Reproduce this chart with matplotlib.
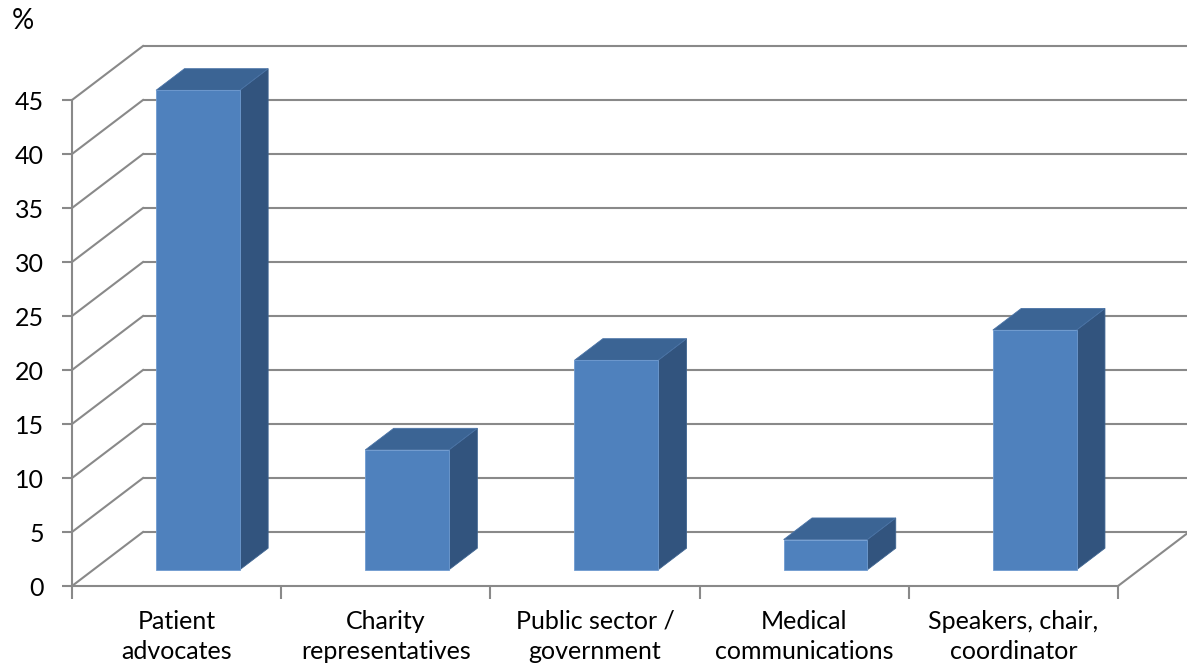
"""
Pseudo-3D column chart: share of participants by role (%)
"""
import numpy as np
import matplotlib
matplotlib.use("Agg")
import matplotlib.pyplot as plt
from matplotlib.patches import Polygon

# Data
categories = ["Patient\nadvocates", "Charity\nrepresentatives", "Public sector /\ngovernment",
              "Medical\ncommunications", "Speakers, chair,\ncoordinator"]
values = [44.4, 11.1, 19.4, 2.8, 22.2]
y_ticks = [0, 5, 10, 15, 20, 25, 30, 35, 40, 45]

plt.rcParams['font.family'] = ['Lato', 'DejaVu Sans']

grid_col = '#898989'
front_col = '#4F81BD'
top_col = '#3B6494'
side_col = '#32547E'

# depth of the "room" in data units (oblique projection)
wall_dx, wall_dy = 0.3394, 5.0
bar_w = 0.4
depth_front, depth_back = 0.3, 0.7

fig = plt.figure(figsize=(11.87, 6.72), dpi=100)
ax = fig.add_axes([72 / 1187, 86 / 672, 1046 / 1187, 486 / 672])
n = len(categories)
ax.set_xlim(0, n)
ax.set_ylim(0, 45)

# back wall and side wall grid lines
for v in y_ticks:
    ax.plot([wall_dx, n + wall_dx], [v + wall_dy, v + wall_dy], color=grid_col, lw=1.5,
            clip_on=False, zorder=1, solid_capstyle='butt')
    ax.plot([0, wall_dx], [v, v + wall_dy], color=grid_col, lw=1.5, clip_on=False, zorder=1)
# right floor edge
ax.plot([n, n + wall_dx], [0, wall_dy], color=grid_col, lw=1.5, clip_on=False, zorder=1)

# bars
fx, fy = depth_front * wall_dx, depth_front * wall_dy
bdx, bdy = (depth_back - depth_front) * wall_dx, (depth_back - depth_front) * wall_dy
for i, v in enumerate(values):
    x0 = i + 0.5 - bar_w / 2 + fx
    x1 = x0 + bar_w
    top = Polygon([(x0, v + fy), (x1, v + fy), (x1 + bdx, v + fy + bdy), (x0 + bdx, v + fy + bdy)],
                  closed=True, facecolor=top_col, edgecolor='#4a73a6', lw=0.6, clip_on=False, zorder=3)
    side = Polygon([(x1, fy), (x1 + bdx, fy + bdy), (x1 + bdx, v + fy + bdy), (x1, v + fy)],
                   closed=True, facecolor=side_col, edgecolor='#3f6591', lw=0.6, clip_on=False, zorder=3)
    ax.add_patch(side)
    ax.add_patch(top)
ax.bar(np.arange(n) + 0.5 + fx, values, width=bar_w, bottom=fy, color=front_col,
       edgecolor='#6f9bd0', lw=0.6, clip_on=False, zorder=4)

# axes styling
for s in ['top', 'right']:
    ax.spines[s].set_visible(False)
for s in ['left', 'bottom']:
    ax.spines[s].set_color(grid_col)
    ax.spines[s].set_linewidth(1.5)
    ax.spines[s].set_zorder(2)
ax.set_yticks(y_ticks)
ax.set_yticklabels([str(t) for t in y_ticks])
ax.tick_params(axis='y', length=7, width=1.5, color=grid_col, pad=13, labelsize=18)
ax.set_xticks(np.arange(n + 1), minor=True)
ax.set_xticks(np.arange(n) + 0.5)
ax.set_xticklabels(categories, linespacing=1.4)
ax.tick_params(axis='x', which='major', length=0, pad=17, labelsize=18)
ax.tick_params(axis='x', which='minor', length=9, width=1.5, color=grid_col)
ax.patch.set_visible(False)

fig.text(12 / 1187, 1 - 21 / 672, '%', fontsize=20, va='center', ha='left')

fig.savefig('out.png', dpi=100)
